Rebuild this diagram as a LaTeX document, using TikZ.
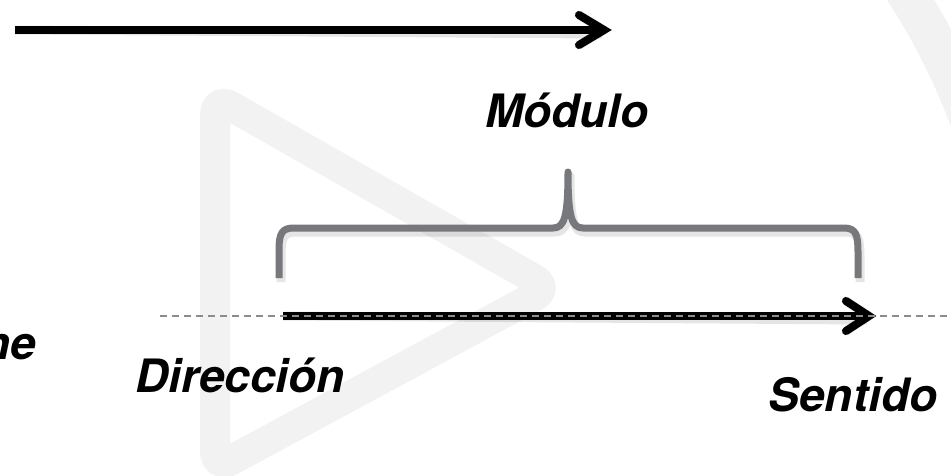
\documentclass[tikz,border=0pt]{standalone}
\usepackage{fontspec}
\setmainfont{TeX Gyre Heros}
\definecolor{bracegray}{HTML}{77787C}
\definecolor{dashgray}{HTML}{8C8C8C}
\definecolor{wmgray}{HTML}{F2F2F2}
\begin{document}
\begin{tikzpicture}[x=1pt,y=-1pt,
  wm/.style={draw=wmgray, line width=30pt, line join=round},
  blk/.style={draw=black, line width=8pt},
  chev/.style={draw=black, line width=8pt, line cap=round, line join=miter},
  brc/.style={draw=bracegray, line width=7pt, line join=round},
  shd/.style={draw=black, opacity=0.10, line width=9pt, line join=round},
  lbl/.style={inner sep=0pt, font=\fontsize{46}{52}\selectfont\bfseries\itshape},
  dsh/.style={draw=dashgray, line width=1.3pt, dash pattern=on 7pt off 5pt}]
\useasboundingbox (0,0) rectangle (951,475);
\clip (0,0) rectangle (951,475);
\fill[white] (0,0) rectangle (951,475);
% watermark
\draw[wm, rounded corners=18pt] (215,97) -- (550,288) -- (215,469) -- cycle;
\draw[draw=wmgray, line width=40pt] (350,350) circle[radius=661];
% coordinates
\coordinate (t1) at (15,30);
\coordinate (t2) at (604,30);
\coordinate (t2a) at (579,15);
\coordinate (t2b) at (579,45);
\coordinate (m1) at (283,316);
\coordinate (m2) at (869,316);
\coordinate (m2a) at (846,301);
\coordinate (m2b) at (846,331);
\coordinate (d1) at (160,316);
\coordinate (d2) at (951,316);
% shadows
\begin{scope}[shift={(2,4)}]
\draw[shd] (t1) -- (600,30);
\draw[shd, line cap=round] (t2a) -- (t2) -- (t2b);
\draw[shd] (m1) -- (865,316);
\draw[shd, line cap=round] (m2a) -- (m2) -- (m2b);
\draw[shd] (279,278) -- (279,250) .. controls (279,233) and (282,228) .. (294,228)
  -- (553,228) .. controls (564,228) and (568,218) .. (568,172)
  .. controls (568,218) and (572,228) .. (583,228)
  -- (844,228) .. controls (856,228) and (858,235) .. (858,252) -- (858,278);
\end{scope}
% top arrow
\draw[blk] (t1) -- (600,30);
\draw[chev] (t2a) -- (t2) -- (t2b);
% brace
\draw[brc] (279,278) -- (279,250) .. controls (279,233) and (282,228) .. (294,228)
  -- (553,228) .. controls (564,228) and (568,218) .. (568,172)
  .. controls (568,218) and (572,228) .. (583,228)
  -- (844,228) .. controls (856,228) and (858,235) .. (858,252) -- (858,278);
% middle arrow
\draw[blk] (m1) -- (865,316);
\draw[chev] (m2a) -- (m2) -- (m2b);
% dashed line
\draw[dsh] (d1) -- (d2);
% labels
\node[lbl, anchor=base] (modulo) at (567,127) {Módulo};
\node[lbl, anchor=base] (direccion) at (240,392) {Dirección};
\node[lbl, anchor=base] (sentido) at (853,411) {Sentido};
\node[lbl, anchor=base east] (ne) at (36,359) {ne};
\end{tikzpicture}
\end{document}
